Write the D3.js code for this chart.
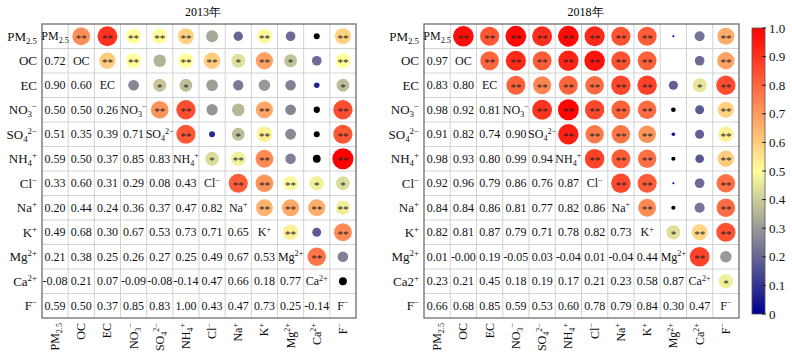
<!DOCTYPE html>
<html><head><meta charset="utf-8">
<script src="https://cdn.jsdelivr.net/npm/d3@7"></script>
<style>
html,body{margin:0;padding:0;background:#fff;}
svg text{font-family:"Liberation Serif","Times New Roman",serif;}
</style>
</head><body>
<svg id="c" width="792" height="358"></svg>
<script>
// ---------- data ----------
const varBase = ["PM","OC","EC","NO","SO","NH","Cl","Na","K","Mg","Ca","F"];
const varSub  = ["2.5","","","3","4","4","","","","","",""];
const varSup  = ["","","","\u2212","2\u2212","+","\u2212","+","+","2+","2+","\u2212"];
// 2018 row label quirk: "Ca2+" with normal-size 2
const rowBase2018 = ["PM","OC","EC","NO","SO","NH","Cl","Na","K","Mg","Ca2","F"];
const rowSup2018  = ["","","","\u2212","2\u2212","+","\u2212","+","+","2+","+","\u2212"];

const titles = ["2013年","2018年"];

// lower-triangle correlation rows (row j, columns 0..j-1)
const corr2013 = [
  [],
  [0.72],
  [0.90,0.60],
  [0.50,0.50,0.26],
  [0.51,0.35,0.39,0.71],
  [0.59,0.50,0.37,0.85,0.83],
  [0.33,0.60,0.31,0.29,0.08,0.43],
  [0.20,0.44,0.24,0.36,0.37,0.47,0.82],
  [0.49,0.68,0.30,0.67,0.53,0.73,0.71,0.65],
  [0.21,0.38,0.25,0.26,0.27,0.25,0.49,0.67,0.53],
  [-0.08,0.21,0.07,-0.09,-0.08,-0.14,0.47,0.66,0.18,0.77],
  [0.59,0.50,0.37,0.85,0.83,1.00,0.43,0.47,0.73,0.25,-0.14]
];
const stars2013 = [
  [],
  ["**"],
  ["**","**"],
  ["**","**",""],
  ["**","","*","**"],
  ["**","**","*","**","**"],
  ["","**","","","","*"],
  ["","*","","","*","**","**"],
  ["**","**","","**","**","**","**","**"],
  ["","*","","","","","**","**","**"],
  ["","","","","","","*","**","","**"],
  ["**","**","*","**","**","**","*","**","**","",""]
];
const corr2018 = [
  [],
  [0.97],
  [0.83,0.80],
  [0.98,0.92,0.81],
  [0.91,0.82,0.74,0.90],
  [0.98,0.93,0.80,0.99,0.94],
  [0.92,0.96,0.79,0.86,0.76,0.87],
  [0.84,0.84,0.86,0.81,0.77,0.82,0.86],
  [0.82,0.81,0.87,0.79,0.71,0.78,0.82,0.73],
  [0.01,-0.00,0.19,-0.05,0.03,-0.04,0.01,-0.04,0.44],
  [0.23,0.21,0.45,0.18,0.19,0.17,0.21,0.23,0.58,0.87],
  [0.66,0.68,0.85,0.59,0.53,0.60,0.78,0.79,0.84,0.30,0.47]
];
const stars2018 = [
  [],
  ["**"],
  ["**","**"],
  ["**","**","**"],
  ["**","**","**","**"],
  ["**","**","**","**","**"],
  ["**","**","**","**","**","**"],
  ["**","**","**","**","**","**","**"],
  ["**","**","**","**","**","**","**","**"],
  ["","","","","","","","","*"],
  ["","","*","","","","","","**","**"],
  ["**","**","**","**","**","**","**","**","**","","*"]
];
const cbTicks = [0,0.1,0.2,0.3,0.4,0.5,0.6,0.7,0.8,0.9,1.0];

// ---------- drawing ----------
const svg = d3.select("#c");
const color = d3.scaleLinear().domain([0,0.5,1]).range(["#000090","#ffff9c","#ff0000"]).clamp(true);
const rScale = d3.scaleSqrt().domain([0,1]).range([0,10.5]);
const fmt = v => (v < 0 || Object.is(v, -0)) ? "-" + Math.abs(v).toFixed(2) : v.toFixed(2);

function richText(sel, base, sub, sup, fs) {
  sel.append("tspan").text(base);
  if (sub) {
    sel.append("tspan").attr("font-size", fs*0.68).attr("dy", fs*0.25).text(sub);
  }
  if (sup) {
    const up = sub ? -(fs*0.25 + fs*0.38) : -fs*0.38;
    sel.append("tspan").attr("font-size", fs*0.68).attr("dy", up).text(sup);
  }
}

const panels = [
  {x0:42, x1:356, y0:24, y1:318, corr:corr2013, stars:stars2013, rowBase:varBase, rowSup:varSup, title:titles[0]},
  {x0:424, x1:739, y0:24, y1:318, corr:corr2018, stars:stars2018, rowBase:rowBase2018, rowSup:rowSup2018, title:titles[1]}
];
const idx = d3.range(12);

panels.forEach(p => {
  const g = svg.append("g");
  const x = d3.scaleBand().domain(idx).range([p.x0, p.x1]);
  const y = d3.scaleBand().domain(idx).range([p.y0, p.y1]);
  const cw = x.bandwidth(), ch = y.bandwidth();

  // grid
  g.selectAll(".vl").data(d3.range(1,12)).join("line")
    .attr("x1", d => x(d)).attr("x2", d => x(d)).attr("y1", p.y0).attr("y2", p.y1)
    .attr("stroke", "#d2d2d2").attr("stroke-width", 1);
  g.selectAll(".hl").data(d3.range(1,12)).join("line")
    .attr("y1", d => y(d)).attr("y2", d => y(d)).attr("x1", p.x0).attr("x2", p.x1)
    .attr("stroke", "#d2d2d2").attr("stroke-width", 1);
  g.append("rect").attr("x", p.x0).attr("y", p.y0).attr("width", p.x1-p.x0).attr("height", p.y1-p.y0)
    .attr("fill", "none").attr("stroke", "#6e6e6e").attr("stroke-width", 1.3);

  // title
  g.append("text").attr("x", (p.x0+p.x1)/2 + 4).attr("y", 16).attr("text-anchor","middle")
    .attr("font-size", 12).attr("fill","#000").text(p.title);

  // cells
  const lower = [], upper = [];
  p.corr.forEach((row, j) => row.forEach((v, i) => {
    lower.push({r:j, c:i, v});
    upper.push({r:i, c:j, v, s:p.stars[j][i]});
  }));

  g.selectAll(".num").data(lower).join("text")
    .attr("x", d => x(d.c) + cw/2).attr("y", d => y(d.r) + ch/2 + 4.2)
    .attr("text-anchor","middle").attr("font-size", 12).attr("fill","#111")
    .text(d => fmt(d.v));

  g.selectAll(".dot").data(upper).join("circle")
    .attr("cx", d => x(d.c) + cw/2).attr("cy", d => y(d.r) + ch/2)
    .attr("r", d => rScale(Math.abs(d.v)))
    .attr("fill", d => (d.v < 0 || Object.is(d.v, -0)) ? "#000" : color(d.v));

  g.selectAll(".star").data(upper.filter(d => d.s)).join("text")
    .attr("x", d => x(d.c) + cw/2).attr("y", d => y(d.r) + ch/2 + 5.6)
    .attr("text-anchor","middle").attr("font-size", 11).attr("fill","#222")
    .text(d => d.s);

  // diagonal labels
  idx.forEach(k => {
    const t = g.append("text").attr("x", x(k) + cw/2).attr("y", y(k) + ch/2 + 4.2)
      .attr("text-anchor","middle").attr("font-size", 12).attr("fill","#111");
    richText(t, varBase[k], varSub[k], varSup[k], 12);
  });

  // row labels
  idx.forEach(k => {
    const t = g.append("text").attr("x", p.x0 - 5).attr("y", y(k) + ch/2 + 4.4)
      .attr("text-anchor","end").attr("font-size", 13).attr("fill","#111");
    richText(t, p.rowBase[k], varSub[k], p.rowSup[k], 13);
  });

  // column labels (rotated)
  idx.forEach(k => {
    const t = g.append("text")
      .attr("transform", `translate(${x(k) + cw/2 + 4},${p.y1 + 5}) rotate(-90)`)
      .attr("text-anchor","end").attr("font-size", 12).attr("fill","#111");
    richText(t, varBase[k], varSub[k], varSup[k], 12);
  });
});

// colorbar
const cb = {x:752, w:13, y0:28, y1:314};
const defs = svg.append("defs");
const grad = defs.append("linearGradient").attr("id","cbg").attr("x1",0).attr("x2",0).attr("y1",1).attr("y2",0);
d3.range(0,1.0001,0.05).forEach(t => grad.append("stop").attr("offset", t).attr("stop-color", color(t)));
const cy = d3.scaleLinear().domain([0,1]).range([cb.y1, cb.y0]);
svg.append("rect").attr("x", cb.x).attr("y", cb.y0).attr("width", cb.w).attr("height", cb.y1-cb.y0)
  .attr("fill","url(#cbg)").attr("stroke","#555").attr("stroke-width",0.8);
svg.selectAll(".cbt").data(cbTicks).join("line")
  .attr("x1", cb.x + cb.w - 3).attr("x2", cb.x + cb.w + 1)
  .attr("y1", d => cy(d)).attr("y2", d => cy(d)).attr("stroke","#222").attr("stroke-width",1);
svg.selectAll(".cbl").data(cbTicks).join("text")
  .attr("x", cb.x + cb.w + 4).attr("y", d => cy(d) + 4.5)
  .attr("font-size", 13).attr("fill","#111")
  .text(d => d === 0 ? "0" : d3.format(".1f")(d));
</script>
</body></html>
